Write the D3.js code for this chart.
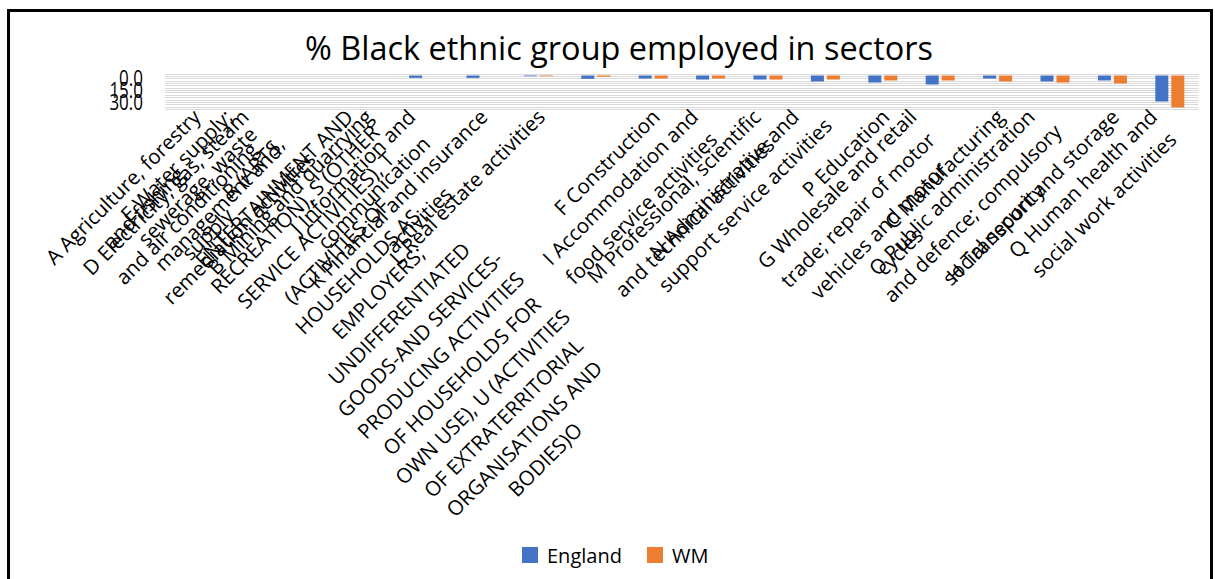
<!DOCTYPE html>
<html>
<head>
<meta charset="utf-8">
<script src="https://cdn.jsdelivr.net/npm/d3@7"></script>
<style>
  body { margin: 0; background: #fff; }
  svg { display: block; }
  text { font-family: "Open Sans", "Noto Sans", sans-serif; fill: #000; }
</style>
</head>
<body>
<svg id="chart" width="1215" height="579"></svg>
<script>
// Sector codes, in plotted order
const categories = ["A", "D", "E", "B", "J", "K", "L", "RSTU", "F", "I", "M", "N", "P", "G", "C", "O", "H", "Q"];

// Wrapped axis labels, one array of lines per sector
const categoryLabels = [
  ["A Agriculture, forestry", "and fishing"],
  ["D Electricity, gas, steam", "and air conditioning", "supply"],
  ["E Water supply;", "sewerage, waste", "management and", "remediation activities"],
  ["B Mining and quarrying"],
  ["J Information and", "communication"],
  ["K Financial and insurance", "activities"],
  ["L Real estate activities"],
  ["R (ARTS,", "ENTERTAINMENT AND", "RECREATION), S (OTHER", "SERVICE ACTIVITIES), T", "(ACTIVITIES OF", "HOUSEHOLDS AS", "EMPLOYERS;", "UNDIFFERENTIATED", "GOODS-AND SERVICES-", "PRODUCING ACTIVITIES", "OF HOUSEHOLDS FOR", "OWN USE), U (ACTIVITIES", "OF EXTRATERRITORIAL", "ORGANISATIONS AND", "BODIES)O"],
  ["F Construction"],
  ["I Accommodation and", "food service activities"],
  ["M Professional, scientific", "and technical activities"],
  ["N Administrative and", "support service activities"],
  ["P Education"],
  ["G Wholesale and retail", "trade; repair of motor", "vehicles and motor", "cycles"],
  ["C Manufacturing"],
  ["O Public administration", "and defence; compulsory", "social security"],
  ["H Transport and storage"],
  ["Q Human health and", "social work activities"]
];

const seriesNames = ["England", "WM"];
const englandValues = [0, 0, 0, 0, 3.0, 3.0, 0.9, 4.2, 3.8, 5.1, 5.1, 7.6, 8.9, 11.4, 3.8, 7.6, 6.3, 33.0];
const wmValues      = [0, 0, 0, 0, 0,   0,   0.9, 1.7, 3.8, 3.8, 5.1, 5.1, 6.3, 6.3,  7.6, 8.9, 10.1, 40.5];
const seriesColors = ["#4472C4", "#ED7D31"];

const yTickValues = [0, 15, 30];
const yMax = 45;
const gridStep = 3;

const svg = d3.select("#chart");

// chart frame
svg.append("rect")
  .attr("x", 8.5).attr("y", 10.5).attr("width", 1203).attr("height", 570)
  .attr("fill", "#fff").attr("stroke", "#000").attr("stroke-width", 3);

// title
const title = svg.append("text")
  .attr("text-anchor", "middle")
  .style("font-size", "31px")
  .text("% Black ethnic group employed in sectors");
{
  const len = title.node().getComputedTextLength();
  title.attr("transform", `translate(619,60) scale(${628 / len},1.05)`);
}

const plot = { left: 165.3, right: 1198.5, top: 75.5, bottom: 111 };

// value axis runs downward (reversed)
const y = d3.scaleLinear().domain([0, yMax]).range([plot.top, plot.bottom]);

const x0 = d3.scaleBand()
  .domain(categories)
  .range([plot.left, plot.right])
  .paddingInner(0.4948)
  .paddingOuter(0.4948 / 2);

const x1 = d3.scaleBand()
  .domain(seriesNames)
  .range([0, x0.bandwidth()])
  .paddingInner(3 / 16);

// gridlines
svg.append("g")
  .selectAll("line")
  .data(d3.range(0, yMax + 0.001, gridStep))
  .join("line")
  .attr("x1", plot.left).attr("x2", plot.right)
  .attr("y1", d => Math.round(y(d)) - 1.5).attr("y2", d => Math.round(y(d)) - 1.5)
  .attr("stroke", "#d9d9d9").attr("stroke-width", 1);

// value axis labels (taller glyphs)
const yAxis = d3.axisLeft(y).tickValues(yTickValues).tickFormat(d3.format(".1f")).tickSize(0).tickPadding(0);
const yAxisG = svg.append("g").attr("transform", "translate(143,0)").call(yAxis);
yAxisG.select(".domain").remove();
yAxisG.selectAll(".tick text")
  .style("font-family", "\"Open Sans\", sans-serif")
  .style("font-size", "17px")
  .style("fill", "#000")
  .attr("x", 0).attr("y", 0)
  .attr("dy", "0.35em")
  .attr("transform", "translate(0,2.5) scale(1,1.25)");

// bars
const rows = categories.map((c, i) => ({ cat: c, vals: [englandValues[i], wmValues[i]] }));
const groups = svg.append("g").selectAll("g")
  .data(rows).join("g")
  .attr("transform", d => `translate(${x0(d.cat)},0)`);
groups.selectAll("rect")
  .data(d => d.vals.map((v, k) => ({ key: seriesNames[k], v, k })))
  .join("rect")
  .attr("x", d => x1(d.key))
  .attr("y", y(0))
  .attr("width", x1.bandwidth())
  .attr("height", d => y(d.v) - y(0))
  .attr("fill", d => seriesColors[d.k]);

// rotated, wrapped category labels: lines centred within the block,
// block placed so its rotated extent ends at the tick and starts below the axis
const fontSize = 20.5;
const lineH = 29.5;
const labelInkTop = 108;
const labelRightPad = 8;
const c45 = Math.SQRT1_2;

const labelLayer = svg.append("g");
categories.forEach((cat, i) => {
  const lines = categoryLabels[i];
  const g = labelLayer.append("g");
  const texts = lines.map(t => g.append("text")
    .attr("text-anchor", "middle")
    .style("font-size", fontSize + "px")
    .text(t));
  const widths = texts.map(t => t.node().getComputedTextLength());
  const bw = d3.max(widths);
  let right = -Infinity, top = Infinity;
  texts.forEach((t, j) => {
    const vc = (j + 0.5) * lineH;
    const uc = -bw / 2;
    t.attr("x", uc).attr("y", vc + fontSize * 0.35);
    const uEnd = uc + widths[j] / 2;
    right = Math.max(right, c45 * (uEnd + vc + 0.35 * fontSize));
    top = Math.min(top, c45 * ((vc - 0.37 * fontSize) - uEnd));
  });
  const tick = x0(cat) + x0.bandwidth() / 2;
  const tx = tick + labelRightPad - right;
  const ty = labelInkTop - top;
  g.attr("transform", `translate(${tx},${ty}) rotate(-45)`);
});

// legend
const legend = svg.append("g");
const legendItems = [{ name: seriesNames[0], x: 522 }, { name: seriesNames[1], x: 647 }];
legendItems.forEach((d, k) => {
  legend.append("rect").attr("x", d.x).attr("y", 547).attr("width", 16).attr("height", 16)
    .attr("fill", seriesColors[k]);
  legend.append("text").attr("x", d.x + 25).attr("y", 563)
    .style("font-size", "20px").text(d.name);
});
</script>
</body>
</html>
